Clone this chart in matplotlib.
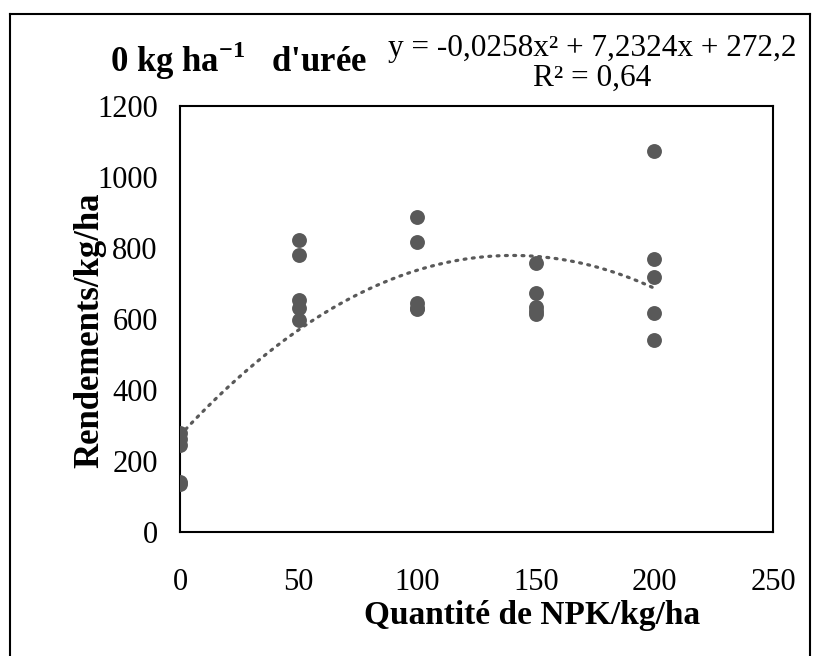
import numpy as np
import matplotlib.pyplot as plt
from matplotlib.lines import Line2D

plt.rcParams['font.family'] = ['Liberation Serif', 'DejaVu Serif']
plt.rcParams['mathtext.fontset'] = 'custom'
plt.rcParams['mathtext.rm'] = 'Liberation Serif'
plt.rcParams['mathtext.bf'] = 'Liberation Serif:bold'

# NPK doses and yields
npk = [0, 0, 0, 0, 0,
       50, 50, 50, 50, 50,
       100, 100, 100, 100, 100,
       150, 150, 150, 150, 150,
       200, 200, 200, 200, 200]
yields = [280, 262, 245, 140, 135,
          822, 779, 653, 630, 597,
          887, 818, 646, 632, 627,
          759, 674, 634, 622, 615,
          1073, 768, 718, 616, 541]

# polynomial trendline as printed on the chart
trend_coef = [-0.0258, 7.2324, 272.2]
x_ticks = [0, 50, 100, 150, 200, 250]
y_ticks = [0, 200, 400, 600, 800, 1000, 1200]

grey = '#595959'

fig = plt.figure(figsize=(8.17, 6.56), dpi=100)
ax = fig.add_axes([0.2203, 0.189, 0.7258, 0.6494])

xt = np.linspace(0, 200, 200)
ax.plot(xt, np.polyval(trend_coef, xt), color=grey, lw=2.3,
        linestyle=(0, (0.6, 2.0)), dash_capstyle='round', zorder=2)
ax.scatter(npk, yields, s=115, color=grey, zorder=3, linewidths=0)

ax.set_xlim(0, 250)
ax.set_ylim(0, 1200)
ax.set_xticks(x_ticks)
ax.set_yticks(y_ticks)
ax.tick_params(length=0, labelsize=22)
ax.tick_params(axis='x', pad=26)
ax.tick_params(axis='y', pad=16)
for s in ax.spines.values():
    s.set_linewidth(1.5)
    s.set_color('black')

ax.set_xlabel('Quantité de NPK/kg/ha', fontsize=24, fontweight='bold')
ax.xaxis.set_label_coords(0.594, -0.16)
ax.set_ylabel('Rendements/kg/ha', fontsize=25, fontweight='bold')
ax.yaxis.set_label_coords(-0.124, 0.474)

fig.text(0.135, 0.908, r"0 kg ha$^{\mathbf{-1}}$   d'urée", fontsize=25,
         fontweight='bold', va='center', ha='left')
fig.text(0.725, 0.926, 'y = -0,0258x² + 7,2324x + 272,2', fontsize=22.5,
         va='center', ha='center')
fig.text(0.725, 0.880, 'R² = 0,64', fontsize=22.5, va='center', ha='center')

# outer frame
fx0, fx1, fy1 = 10 / 817, 810 / 817, 1 - 14 / 656
for xs, ys in [([fx0, fx0], [0, fy1]), ([fx0, fx1], [fy1, fy1]), ([fx1, fx1], [fy1, 0])]:
    fig.add_artist(Line2D(xs, ys, color='black', lw=1.5, transform=fig.transFigure))

fig.savefig('out.png', dpi=100)
